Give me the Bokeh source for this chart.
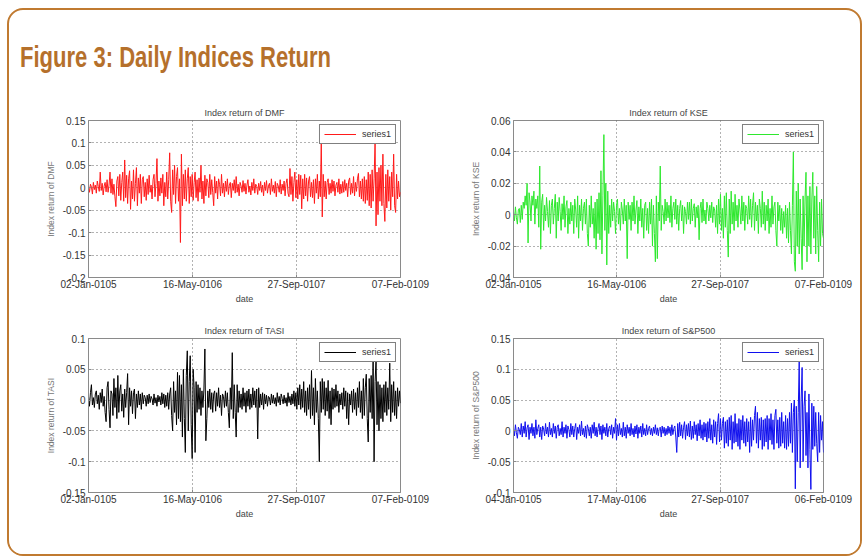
import numpy as np
from bokeh.plotting import figure
from bokeh.models import FixedTicker, CustomJSTickFormatter, Div, Range1d
from bokeh.layouts import row, column
from bokeh.embed import file_html
from bokeh.resources import INLINE

# ---- data ----
x_tick_days = [0, 499, 998, 1497]
x_labels_std = ["02-Jan-0105", "16-May-0106", "27-Sep-0107", "07-Feb-0109"]
x_labels_sp = ["04-Jan-0105", "17-May-0106", "27-Sep-0107", "06-Feb-0109"]

dmf_ticks = [-0.2, -0.15, -0.1, -0.05, 0, 0.05, 0.1, 0.15]
kse_ticks = [-0.04, -0.02, 0, 0.02, 0.04, 0.06]
tasi_ticks = [-0.15, -0.1, -0.05, 0, 0.05, 0.1]
sp_ticks = [-0.1, -0.05, 0, 0.05, 0.1, 0.15]

dmf = [
    0.004, -0.010, 0.008, 0.002, -0.014, 0.012, -0.004, 0.006, -0.012, 0.015, 0.003, -0.008, 0.035, -0.006, 0.010, -0.016, 0.004, 0.012, -0.009, 0.018,
    -0.010, 0.006, 0.035, -0.012, 0.020, -0.015, 0.008, -0.020, -0.042, 0.015, 0.025, -0.018, 0.030, -0.028, 0.012, 0.035, -0.030, 0.062, -0.022, 0.028,
    -0.035, 0.020, 0.038, -0.048, 0.015, -0.025, 0.040, -0.030, 0.010, 0.045, -0.040, 0.022, -0.012, 0.030, -0.035, 0.018, 0.025, -0.020, 0.012, -0.028,
    0.020, -0.015, 0.028, -0.010, 0.006, -0.025, 0.018, 0.030, -0.020, 0.010, 0.065, -0.030, 0.015, -0.018, 0.022, -0.012, 0.030, -0.040, 0.012, -0.020,
    0.035, -0.025, 0.018, 0.078, -0.030, -0.055, 0.040, -0.015, 0.050, -0.035, 0.025, 0.045, -0.030, 0.020, -0.122, 0.075, -0.040, 0.030, -0.025, 0.040,
    -0.030, 0.020, 0.045, -0.035, 0.025, -0.020, 0.030, -0.028, 0.012, 0.035, -0.022, 0.018, -0.030, 0.022, -0.010, 0.050, -0.025, 0.015, -0.035, 0.028,
    -0.018, 0.020, 0.012, -0.022, 0.030, -0.015, 0.018, -0.010, -0.040, 0.025, -0.012, 0.015, -0.025, 0.020, 0.008, -0.018, 0.030, -0.012, 0.010, -0.020,
    0.015, -0.008, 0.020, -0.015, 0.006, 0.012, -0.022, 0.010, -0.006, 0.018, -0.012, 0.025, -0.010, 0.008, -0.018, 0.012, 0.004, -0.010, 0.016, -0.008,
    0.010, -0.014, 0.006, 0.018, -0.010, 0.004, -0.016, 0.012, -0.006, 0.020, -0.012, 0.008, 0.003, -0.015, 0.010, -0.006, 0.014, -0.010, 0.006, -0.018,
    0.012, -0.006, 0.016, -0.012, 0.004, 0.010, -0.015, 0.020, -0.008, 0.006, -0.012, 0.014, -0.020, 0.010, 0.004, -0.010, 0.018, -0.014, 0.008, -0.006,
    0.015, -0.018, 0.010, 0.020, -0.012, -0.020, 0.043, -0.015, 0.025, -0.030, 0.012, 0.035, -0.022, 0.018, -0.025, 0.030, -0.015, 0.028, -0.047, 0.020,
    -0.025, 0.030, -0.018, 0.022, -0.030, 0.015, 0.025, -0.020, 0.012, -0.022, 0.018, -0.035, 0.020, -0.012, 0.030, -0.025, 0.015, -0.020, 0.100, -0.065,
    0.030, -0.020, 0.015, -0.025, 0.012, 0.020, -0.015, 0.010, -0.012, 0.018, -0.008, 0.015, -0.018, 0.006, 0.012, -0.010, 0.020, -0.014, 0.008, -0.012,
    0.014, -0.010, 0.018, -0.006, 0.010, -0.020, 0.015, 0.022, -0.015, 0.010, -0.012, 0.025, -0.018, 0.012, -0.008, 0.020, 0.032, -0.020, 0.015, -0.025,
    0.020, -0.030, 0.025, -0.035, 0.018, -0.028, 0.035, -0.040, 0.030, -0.045, 0.040, -0.030, 0.020, 0.100, -0.085, 0.035, -0.060, 0.045, -0.030, 0.050,
    -0.040, 0.075, -0.035, -0.075, 0.030, -0.045, 0.040, -0.030, 0.025, -0.050, 0.035, -0.020, 0.075, -0.040, -0.055, 0.030, -0.025, 0.015, -0.020, -0.010,
]

kse = [
    0.002, -0.004, 0.005, -0.002, -0.006, 0.003, 0.004, -0.005, 0.006, -0.003, 0.008, 0.004, 0.012, 0.006, 0.020, -0.018, 0.014, 0.008, -0.004, 0.012,
    0.006, 0.015, -0.006, 0.010, 0.004, 0.012, -0.008, 0.031, -0.022, 0.008, 0.013, -0.010, 0.006, -0.004, 0.011, 0.002, -0.008, 0.009, -0.012, 0.006,
    0.010, -0.006, 0.004, 0.013, -0.015, 0.008, -0.004, 0.011, 0.002, -0.010, 0.007, -0.003, 0.012, -0.008, 0.005, 0.009, -0.012, 0.004, -0.006, 0.008,
    -0.004, 0.006, -0.012, 0.010, 0.003, -0.008, 0.012, -0.015, 0.006, -0.004, 0.010, -0.010, 0.004, 0.008, -0.006, 0.010, -0.012, -0.020, 0.006, -0.008,
    0.012, -0.006, 0.004, -0.015, 0.008, -0.022, 0.010, -0.012, 0.014, -0.016, 0.028, -0.025, 0.012, 0.051, -0.010, 0.020, -0.032, 0.015, -0.012, 0.006,
    -0.008, 0.010, -0.004, 0.008, 0.002, -0.012, 0.006, 0.010, -0.006, 0.004, -0.010, 0.008, 0.003, -0.006, 0.010, -0.004, 0.006, -0.028, 0.008, -0.003,
    0.006, -0.010, 0.008, -0.004, 0.012, -0.006, 0.003, 0.009, -0.012, 0.005, -0.004, 0.010, -0.008, 0.004, -0.015, 0.006, 0.008, -0.010, 0.004, -0.012,
    0.008, -0.006, 0.010, -0.020, 0.006, -0.012, -0.030, 0.012, -0.028, 0.008, -0.004, 0.031, -0.010, 0.006, 0.002, -0.006, 0.010, -0.004, 0.008, -0.002,
    0.006, -0.005, 0.012, -0.008, 0.004, 0.008, -0.003, 0.010, -0.006, 0.006, -0.010, 0.004, 0.009, -0.004, 0.006, -0.012, 0.005, 0.002, -0.006, 0.008,
    -0.003, 0.008, -0.006, 0.010, -0.004, 0.004, 0.007, -0.008, 0.005, -0.002, 0.006, -0.016, 0.004, 0.008, -0.005, 0.010, -0.004, 0.003, -0.006, 0.008,
    0.004, -0.004, 0.006, -0.002, 0.008, -0.005, 0.005, 0.003, -0.008, 0.006, -0.012, 0.010, -0.006, 0.013, -0.010, 0.004, -0.015, 0.012, -0.008, 0.014,
    -0.010, -0.027, 0.010, -0.012, 0.015, -0.006, 0.008, -0.010, 0.013, -0.004, 0.006, -0.008, 0.010, 0.003, -0.006, 0.012, -0.004, 0.008, -0.010, 0.006,
    0.004, -0.006, 0.012, -0.003, 0.010, -0.008, 0.006, 0.014, -0.010, 0.008, -0.004, 0.006, -0.012, 0.010, 0.004, -0.008, 0.015, -0.006, 0.008, -0.010,
    0.006, -0.004, 0.010, -0.012, 0.004, -0.008, 0.012, -0.006, 0.005, 0.008, -0.010, -0.020, 0.008, -0.004, 0.006, -0.010, 0.004, -0.012, 0.002, -0.008,
    0.006, -0.015, 0.004, -0.018, 0.008, -0.010, -0.025, 0.006, 0.040, -0.030, -0.036, 0.015, -0.020, 0.020, -0.025, 0.010, -0.015, -0.035, 0.012, -0.020,
    0.010, 0.027, -0.030, 0.012, -0.020, 0.018, -0.025, 0.010, 0.027, -0.015, 0.012, -0.025, 0.018, -0.010, -0.030, 0.008, -0.020, 0.010, -0.012, -0.015,
]

tasi = [
    0.006, -0.010, 0.012, 0.025, -0.008, 0.004, -0.012, 0.010, 0.015, -0.006, 0.008, -0.015, 0.012, -0.004, 0.018, -0.010, 0.006, -0.020, -0.035, 0.020,
    0.030, -0.015, -0.045, 0.015, 0.010, -0.025, 0.035, -0.012, 0.020, -0.030, 0.040, -0.020, 0.015, 0.025, -0.018, 0.010, -0.028, 0.018, -0.012, 0.012,
    0.043, -0.040, 0.020, -0.010, 0.015, -0.022, 0.012, 0.018, -0.030, 0.010, -0.012, 0.015, -0.008, 0.010, -0.015, 0.012, -0.006, 0.008, 0.004, -0.010,
    0.008, -0.006, 0.010, -0.004, 0.006, 0.002, -0.008, 0.010, -0.005, 0.004, -0.010, 0.008, -0.003, 0.006, -0.008, 0.012, -0.006, 0.010, -0.012, 0.008,
    -0.010, 0.012, -0.015, 0.010, 0.020, -0.025, -0.050, 0.030, -0.020, 0.015, -0.040, 0.045, -0.030, 0.040, -0.035, 0.025, -0.060, 0.050, -0.030, -0.085,
    0.040, 0.080, -0.050, 0.030, 0.072, -0.040, -0.095, 0.050, 0.020, -0.085, 0.030, -0.020, 0.025, -0.015, 0.020, -0.025, 0.015, -0.012, 0.018, 0.083,
    -0.066, -0.030, 0.015, -0.012, 0.018, -0.015, 0.012, -0.020, 0.010, 0.015, -0.018, 0.012, -0.010, 0.020, -0.012, 0.008, -0.025, 0.010, 0.006, -0.012,
    0.015, -0.010, 0.012, -0.020, -0.045, 0.020, -0.015, 0.077, -0.030, 0.025, -0.020, -0.060, 0.025, -0.020, 0.015, -0.012, 0.010, -0.015, 0.020, -0.010,
    0.012, -0.020, 0.015, -0.010, 0.018, -0.015, 0.010, -0.012, 0.020, -0.008, 0.015, -0.012, 0.018, -0.063, 0.020, -0.012, 0.010, -0.008, 0.012, -0.015,
    0.010, -0.006, 0.008, -0.010, 0.006, 0.004, -0.008, 0.010, -0.005, 0.008, -0.006, 0.004, -0.010, 0.012, -0.004, 0.006, -0.008, 0.010, 0.003, -0.006,
    0.008, -0.005, 0.004, -0.010, 0.012, -0.004, 0.006, -0.008, 0.010, -0.006, 0.015, -0.010, 0.012, -0.015, 0.020, -0.008, 0.025, -0.015, 0.018, -0.012,
    0.030, -0.020, 0.015, -0.025, 0.020, -0.015, 0.025, -0.030, 0.048, -0.025, 0.020, -0.040, 0.035, -0.020, 0.015, -0.030, -0.100, 0.030, -0.020, 0.035,
    -0.015, 0.030, -0.025, 0.020, -0.018, 0.032, -0.030, 0.015, -0.040, 0.020, -0.015, 0.018, -0.012, 0.025, -0.010, 0.015, -0.020, 0.010, -0.008, 0.012,
    -0.015, 0.020, -0.010, 0.015, -0.030, 0.012, -0.040, 0.010, -0.008, 0.015, -0.020, 0.018, -0.015, 0.012, -0.025, 0.020, -0.012, 0.030, -0.020, 0.015,
    -0.030, 0.035, -0.025, 0.020, 0.042, -0.030, -0.068, 0.035, -0.020, 0.040, -0.030, 0.065, -0.100, 0.030, 0.065, -0.040, 0.030, -0.050, 0.025, -0.030,
    0.020, -0.035, 0.025, -0.020, 0.030, -0.025, 0.020, -0.015, 0.060, -0.035, 0.025, -0.020, 0.030, -0.025, 0.015, -0.030, 0.020, -0.010, 0.015, -0.005,
]

sp500 = [
    0.004, -0.008, 0.010, -0.003, -0.012, 0.006, 0.002, -0.006, 0.012, -0.010, 0.008, -0.004, 0.015, -0.010, 0.005, 0.010, -0.014, 0.006, -0.004, 0.012,
    -0.008, 0.006, -0.012, 0.018, -0.006, 0.004, 0.010, -0.010, 0.006, -0.014, 0.008, 0.003, -0.008, 0.012, -0.005, 0.006, -0.010, 0.014, -0.006, 0.004,
    -0.010, 0.012, -0.004, 0.008, -0.012, 0.006, 0.010, -0.008, 0.004, -0.006, 0.015, -0.010, 0.006, -0.004, 0.010, -0.012, 0.008, 0.002, -0.010, 0.012,
    -0.006, 0.008, -0.010, 0.004, 0.012, -0.014, 0.006, -0.004, 0.010, -0.008, 0.016, -0.006, 0.004, -0.010, 0.008, -0.012, 0.010, 0.004, -0.008, 0.006,
    -0.012, 0.010, -0.004, 0.014, -0.008, 0.006, -0.010, 0.004, 0.012, -0.006, 0.008, -0.014, 0.010, -0.004, 0.006, -0.008, 0.012, -0.010, 0.004, 0.008,
    -0.006, 0.010, -0.012, 0.006, -0.004, 0.020, -0.015, 0.010, -0.008, 0.012, -0.006, 0.004, -0.010, 0.014, -0.008, 0.006, -0.012, 0.010, -0.004, 0.006,
    -0.008, 0.012, -0.006, 0.004, -0.010, 0.008, -0.005, 0.010, -0.012, 0.006, -0.004, 0.008, -0.010, 0.012, -0.006, 0.004, -0.008, 0.010, -0.006, 0.004,
    0.008, -0.006, 0.004, -0.008, 0.006, -0.004, 0.010, -0.006, 0.005, -0.008, 0.004, 0.006, -0.010, 0.008, -0.004, 0.006, -0.008, 0.004, -0.006, 0.008,
    -0.004, 0.006, -0.008, 0.010, -0.006, 0.004, 0.008, -0.010, -0.035, 0.012, -0.010, 0.014, -0.008, 0.010, -0.012, 0.006, 0.015, -0.014, 0.010, -0.008,
    0.012, -0.010, 0.016, -0.014, 0.008, -0.012, 0.015, -0.006, 0.010, -0.016, 0.012, -0.008, 0.018, -0.012, 0.010, -0.015, 0.014, -0.010, 0.012, -0.018,
    0.015, -0.012, 0.020, -0.015, 0.010, -0.020, 0.018, -0.010, 0.015, -0.022, 0.012, 0.028, -0.018, 0.020, -0.015, 0.012, 0.022, -0.028, 0.015, -0.020,
    0.018, -0.025, 0.022, -0.015, 0.025, -0.030, 0.015, -0.020, 0.028, -0.018, 0.012, -0.025, 0.020, -0.030, 0.018, -0.015, 0.025, -0.020, 0.015, -0.025,
    0.020, -0.018, 0.015, -0.035, 0.022, -0.025, 0.018, -0.015, 0.025, 0.040, -0.020, 0.030, -0.028, 0.020, -0.015, 0.022, -0.030, 0.018, -0.025, 0.020,
    -0.018, 0.025, -0.030, 0.020, -0.015, 0.028, -0.022, 0.018, -0.030, 0.025, 0.035, -0.020, 0.018, -0.028, 0.022, -0.025, 0.030, -0.020, 0.015, -0.028,
    0.025, -0.030, 0.020, -0.025, 0.030, -0.020, 0.045, -0.035, 0.030, 0.050, -0.094, 0.040, -0.050, 0.030, 0.113, -0.060, 0.050, 0.103, -0.050, 0.040,
    0.065, -0.040, 0.030, -0.060, 0.060, -0.030, -0.095, 0.045, -0.030, 0.040, -0.025, 0.030, -0.020, -0.050, 0.030, -0.035, 0.025, -0.015, 0.015, -0.035,
]

FONT = "Liberation Sans"

fmt_y = CustomJSTickFormatter(code="return String(+tick.toFixed(3));")


def make_panel(values, color, name, yticks, xlabels, width, height, left, right, top, bottom):
    xs = np.linspace(x_tick_days[0], x_tick_days[-1], len(values))
    p = figure(width=width, height=height,
               x_range=Range1d(x_tick_days[0], x_tick_days[-1]),
               y_range=Range1d(yticks[0], yticks[-1]),
               output_backend="svg", toolbar_location=None,
               min_border_left=left, min_border_right=right,
               min_border_top=top, min_border_bottom=bottom,
               background_fill_color="white", border_fill_color="white")
    p.line(xs, values, line_color=color, line_width=1, legend_label="series1")

    p.title.text = "Index return of " + name
    p.title.align = "center"
    p.title.text_font = FONT
    p.title.text_font_size = "9px"
    p.title.text_font_style = "normal"
    p.title.text_color = "#444444"
    p.title.standoff = 5

    xa = p.xaxis[0]
    xa.ticker = FixedTicker(ticks=x_tick_days)
    xa.major_label_overrides = {t: l for t, l in zip(x_tick_days, xlabels)}
    xa.axis_label = "date"
    ya = p.yaxis[0]
    ya.ticker = FixedTicker(ticks=yticks)
    ya.formatter = fmt_y
    ya.axis_label = "Index return of " + name
    for ax in (xa, ya):
        ax.major_label_text_font = FONT
        ax.major_label_text_font_size = "10px"
        ax.major_label_text_color = "#333333"
        ax.axis_label_text_font = FONT
        ax.axis_label_text_font_style = "normal"
        ax.axis_line_color = "#8a8a8a"
        ax.major_tick_line_color = "#8a8a8a"
        ax.major_tick_in = 3
        ax.major_tick_out = 0
        ax.minor_tick_line_color = None
    xa.major_label_standoff = 1
    ya.major_label_standoff = 3
    xa.axis_label_text_font_size = "9px"
    xa.axis_label_text_color = "#444444"
    xa.axis_label_standoff = 1
    ya.axis_label_text_font_size = "8.5px"
    ya.axis_label_text_color = "#777777"
    ya.axis_label_standoff = 4

    for g in (p.xgrid[0], p.ygrid[0]):
        g.grid_line_color = "#555555"
        g.grid_line_dash = "1 3"
        g.grid_line_alpha = 0.9
        g.grid_line_width = 1
    p.xgrid[0].ticker = FixedTicker(ticks=x_tick_days)
    p.ygrid[0].ticker = FixedTicker(ticks=yticks)

    p.outline_line_color = "#8a8a8a"
    p.outline_line_width = 1

    lg = p.legend[0]
    lg.location = "top_right"
    lg.margin = 4
    lg.padding = 4
    lg.spacing = 0
    lg.glyph_width = 32
    lg.glyph_height = 8
    lg.label_standoff = 6
    lg.label_text_font = FONT
    lg.label_text_font_size = "9px"
    lg.label_text_color = "#333333"
    lg.label_height = 8
    lg.border_line_color = "black"
    lg.border_line_width = 1.3
    lg.background_fill_alpha = 1
    return p


f_dmf = make_panel(dmf, "#ff1a1a", "DMF", dmf_ticks, x_labels_std, 421, 218, 79, 30, 20, 41)
f_kse = make_panel(kse, "#2ee82e", "KSE", kse_ticks, x_labels_std, 430, 218, 83, 37, 20, 41)
f_tasi = make_panel(tasi, "#000000", "TASI", tasi_ticks, x_labels_std, 421, 236, 79, 30, 20, 62)
f_sp = make_panel(sp500, "#1010ee", "S&P500", sp_ticks, x_labels_sp, 430, 236, 83, 37, 20, 62)

title_div = Div(
    text='<div style="padding: 33px 0 0 11px; white-space: nowrap;">'
         '<span style="display: inline-block; transform: scaleX(0.76); transform-origin: 0 0;'
         ' font-family: \'Liberation Sans\', sans-serif; font-weight: bold; font-size: 29px;'
         ' line-height: 29px; color: #b5702b;">'
         'Figure 3: Daily Indices Return</span></div>',
    width=851, height=90, margin=0)

layout = column(
    title_div,
    row(f_dmf, f_kse, spacing=0),
    row(f_tasi, f_sp, spacing=0),
    spacing=0,
    margin=(8, 0, 0, 7),
    styles={"border": "2px solid #c07a30", "border-radius": "16px", "overflow": "hidden"},
)

open("out.html", "w").write(file_html(layout, INLINE))
